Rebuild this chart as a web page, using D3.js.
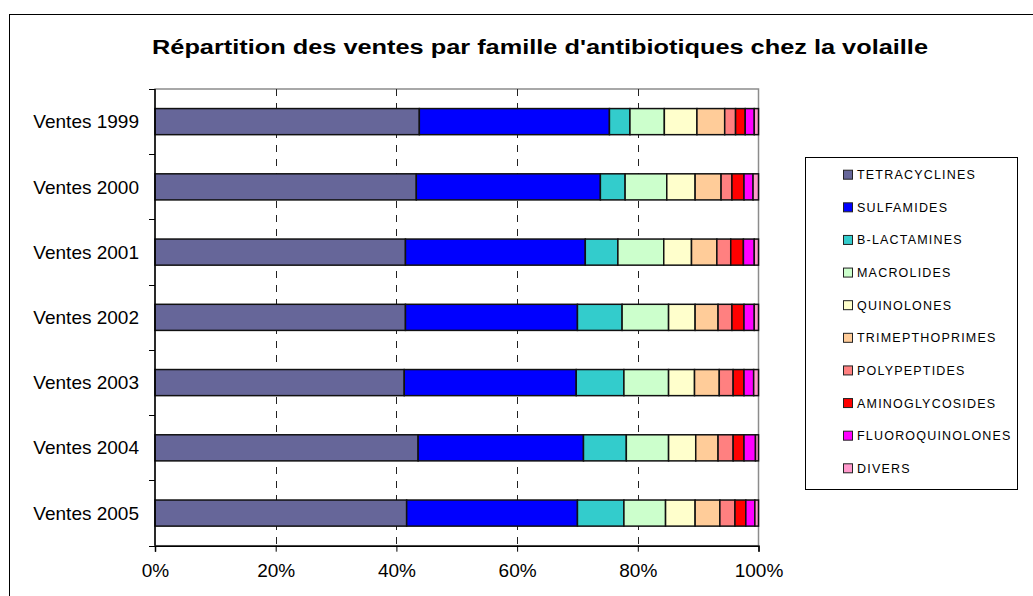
<!DOCTYPE html>
<html><head><meta charset="utf-8">
<script src="https://cdn.jsdelivr.net/npm/d3@7"></script>
<style>body{margin:0;background:#fff}svg{display:block}text{font-family:"Liberation Sans",Arial,sans-serif}</style>
</head><body><svg id="c" width="1033" height="596"></svg>
<script>
const categories = ["Ventes 1999","Ventes 2000","Ventes 2001","Ventes 2002","Ventes 2003","Ventes 2004","Ventes 2005"];
const families = ["TETRACYCLINES","SULFAMIDES","B-LACTAMINES","MACROLIDES","QUINOLONES","TRIMEPTHOPRIMES","POLYPEPTIDES","AMINOGLYCOSIDES","FLUOROQUINOLONES","DIVERS"];
const colors = ["#666699","#0000FF","#33CCCC","#CCFFCC","#FFFFCC","#FFCC99","#FF8080","#FF0000","#FF00FF","#FF99CC"];
const tetracyclines    = [43.8,43.3,41.5,41.5,41.3,43.6,41.7];
const sulfamides       = [31.5,30.5,29.8,28.5,28.5,27.4,28.3];
const bLactamines      = [3.4,4.1,5.4,7.4,7.9,7.1,7.7];
const macrolides       = [5.7,6.9,7.6,7.7,7.4,7.0,6.9];
const quinolones       = [5.4,4.7,4.6,4.4,4.3,4.5,4.9];
const trimepthoprimes  = [4.6,4.3,4.2,3.8,4.1,3.7,4.1];
const polypeptides     = [1.8,1.8,2.3,2.3,2.3,2.5,2.5];
const aminoglycosides  = [1.6,2.0,2.1,2.0,1.8,1.8,1.8];
const fluoroquinolones = [1.5,1.5,1.8,1.7,1.6,1.9,1.5];
const divers           = [0.7,0.9,0.7,0.7,0.8,0.5,0.6];
const xTicks = [0,0.2,0.4,0.6,0.8,1.0];

const series = [tetracyclines,sulfamides,bLactamines,macrolides,quinolones,trimepthoprimes,polypeptides,aminoglycosides,fluoroquinolones,divers];
const rows = categories.map((c,i)=>{const r={cat:c};families.forEach((f,j)=>r[f]=series[j][i]);return r;});
const stacked = d3.stack().keys(families).offset(d3.stackOffsetExpand)(rows);

const svg = d3.select("#c");
svg.append("rect").attr("x",9.5).attr("y",14.5).attr("width",1030).attr("height",600)
  .attr("fill","#fff").attr("stroke","#000").attr("stroke-width",1);

svg.append("text").attr("x",540).attr("y",54).attr("text-anchor","middle")
  .attr("font-size",20).attr("font-weight","bold").attr("fill","#000")
  .attr("textLength",776).attr("lengthAdjust","spacingAndGlyphs")
  .text("Répartition des ventes par famille d'antibiotiques chez la volaille");

const L=155, R=758.5, T=89, B=545.7;
const x = d3.scaleLinear().domain([0,1]).range([L,R]);
const y = d3.scaleBand().domain(categories).range([T,B]).paddingInner(0.6).paddingOuter(0.3);

// plot border
svg.append("rect").attr("x",L).attr("y",T).attr("width",R-L).attr("height",B-T)
  .attr("fill","none").attr("stroke","#8c8c8c").attr("stroke-width",1.5);

// grid
svg.append("g").selectAll("line").data(xTicks.slice(1,-1)).join("line")
  .attr("x1",d=>Math.round(x(d))+0.5).attr("x2",d=>Math.round(x(d))+0.5).attr("y1",T).attr("y2",B)
  .attr("stroke","#222").attr("stroke-width",1).attr("stroke-dasharray","7,7");

// bars
svg.append("g").selectAll("g").data(stacked).join("g")
  .attr("fill",(d,i)=>colors[i])
  .selectAll("rect").data(d=>d).join("rect")
  .attr("x",d=>x(d[0])).attr("width",d=>x(d[1])-x(d[0]))
  .attr("y",d=>y(d.data.cat)).attr("height",y.bandwidth())
  .attr("stroke","#111").attr("stroke-width",1.5);

// x axis
const xa = svg.append("g").attr("transform",`translate(0,${B})`)
  .call(d3.axisBottom(x).tickValues(xTicks).tickFormat(d3.format(".0%")).tickSizeOuter(0).tickSize(6).tickPadding(12));
xa.select(".domain").attr("stroke","#000").attr("stroke-width",1.5);
xa.selectAll("line").attr("stroke","#000");
xa.selectAll("text").attr("font-size",19).attr("fill","#000").attr("font-family","Liberation Sans, Arial, sans-serif");

// y axis
const yTickPos = d3.range(categories.length+1).map(i=>T+(B-T)*i/categories.length);
svg.append("line").attr("x1",L).attr("x2",L).attr("y1",T).attr("y2",B).attr("stroke","#000").attr("stroke-width",1.5);
svg.append("g").selectAll("line").data(yTickPos).join("line")
  .attr("x1",L-6).attr("x2",L).attr("y1",d=>Math.round(d)+0.5).attr("y2",d=>Math.round(d)+0.5).attr("stroke","#000");
svg.append("g").selectAll("text").data(categories).join("text")
  .attr("x",139).attr("y",d=>y(d)+y.bandwidth()/2).attr("dy","0.35em").attr("text-anchor","end")
  .attr("font-size",19).attr("fill","#000").text(d=>d);

// legend
svg.append("rect").attr("x",805.5).attr("y",157.5).attr("width",212).attr("height",332)
  .attr("fill","#fff").attr("stroke","#000").attr("stroke-width",1);
const ly = d3.scalePoint().domain(families).range([174.7,468.3]);
const lg = svg.append("g").selectAll("g").data(families).join("g")
  .attr("transform",d=>`translate(843,${ly(d)})`);
lg.append("rect").attr("x",0.5).attr("y",-4.5).attr("width",9).attr("height",9)
  .attr("fill",(d,i)=>colors[i]).attr("stroke","#222").attr("stroke-width",1);
lg.append("text").attr("x",14).attr("dy","0.36em").attr("font-size",12.5).attr("letter-spacing",1.2)
  .attr("fill","#000").text(d=>d);
</script></body></html>
